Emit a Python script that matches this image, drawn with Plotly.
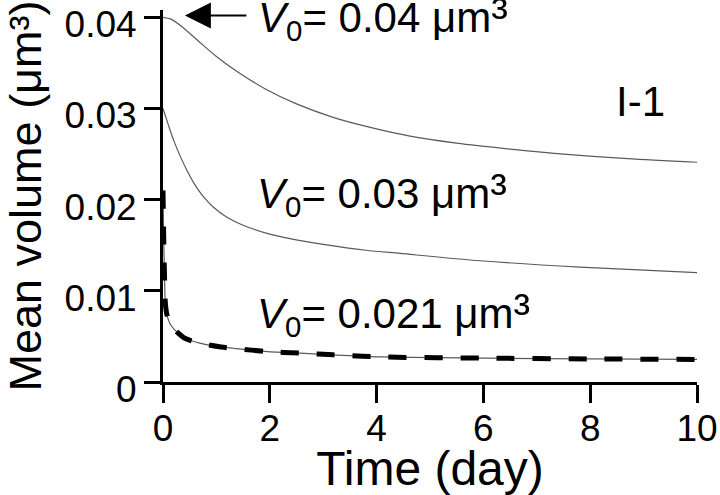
import plotly.graph_objects as go

# ---- data ----
t_040 = [0, 0.15, 0.35, 0.7, 1.0, 1.4, 1.9, 2.5, 3.2, 3.9, 4.6, 5.5, 6.5, 7.5, 8.7, 10]
v_040 = [0.0400, 0.0398, 0.0390, 0.0372, 0.0357, 0.0340, 0.0322, 0.0305, 0.0290, 0.0279,
         0.0270, 0.0262, 0.02555, 0.0250, 0.0245, 0.0241]

t_030 = [0, 0.1, 0.2, 0.32, 0.44, 0.57, 0.76, 0.94, 1.19, 1.5, 1.95, 2.4, 3.0, 3.8, 4.44,
         5.94, 7.81, 10]
v_030 = [0.0300, 0.0282, 0.0265, 0.0248, 0.0233, 0.0219, 0.0203, 0.0192, 0.0181, 0.0172,
         0.0163, 0.0157, 0.0151, 0.01445, 0.0141, 0.0133, 0.0126, 0.0120]

t_021 = [0, 0.01, 0.02, 0.03, 0.04, 0.06, 0.09, 0.15, 0.26, 0.41, 0.69, 1.09, 1.31, 1.95,
         2.57, 3.19, 4.1, 6, 8, 10]
v_021 = [0.0210, 0.0170, 0.0138, 0.0112, 0.0090, 0.0078, 0.0070, 0.0062, 0.0055, 0.0048,
         0.00427, 0.00384, 0.00370, 0.00334, 0.00316, 0.00298, 0.00275, 0.00262, 0.00253,
         0.00248]

x_ticks = [0, 2, 4, 6, 8, 10]
x_tick_labels = ["0", "2", "4", "6", "8", "10"]
y_ticks = [0, 0.01, 0.02, 0.03, 0.04]
y_tick_labels = ["0", "0.01", "0.02", "0.03", "0.04"]

FONT = "Liberation Sans, Arial, sans-serif"
thin = dict(color="#5a5a5a", width=1.2)

fig = go.Figure()
fig.add_trace(go.Scatter(x=t_040, y=v_040, mode="lines",
                         line=dict(shape="spline", smoothing=0.8, **thin)))
fig.add_trace(go.Scatter(x=t_030, y=v_030, mode="lines",
                         line=dict(shape="spline", smoothing=0.8, **thin)))
fig.add_trace(go.Scatter(x=t_021, y=v_021, mode="lines",
                         line=dict(shape="spline", smoothing=0.8, **thin)))
fig.add_trace(go.Scatter(x=t_021, y=v_021, mode="lines",
                         line=dict(shape="spline", smoothing=0.8, color="black", width=5,
                                   dash="18px,18px")))

axis_common = dict(showline=True, linecolor="black", linewidth=3, ticks="outside",
                   tickwidth=3, tickcolor="black", showgrid=False, zeroline=False,
                   automargin=False, ticklabeloverflow="allow",
                   tickfont=dict(family=FONT, size=37, color="black"))

fig.update_layout(
    width=720, height=495,
    margin=dict(l=163, r=23, t=10, b=113),
    plot_bgcolor="white", paper_bgcolor="white",
    showlegend=False,
    xaxis=dict(range=[0, 10], tickvals=x_ticks, ticktext=x_tick_labels, ticklen=18,
               ticklabelstandoff=-6,
               title=dict(text="Time (day)", font=dict(family=FONT, size=48, color="black")),
               **axis_common),
    yaxis=dict(range=[0, 0.0408], tickvals=y_ticks, ticktext=y_tick_labels, ticklen=16,
               ticklabelshift=7,
               title=dict(text="Mean volume (μm³)", standoff=12,
                          font=dict(family=FONT, size=45, color="black")),
               **axis_common),
)

ann_font = dict(family=FONT, size=42, color="black")
SUP3 = '<span style="font-size:50px">³</span>'
fig.add_annotation(x=1.74, y=0.0400, xref="x", yref="y", xanchor="left", yanchor="middle",
                   text="<i>V</i><sub>0</sub>= 0.04 μm" + SUP3, showarrow=False, font=ann_font)
fig.add_annotation(x=1.72, y=0.0207, xref="x", yref="y", xanchor="left", yanchor="middle",
                   text="<i>V</i><sub>0</sub>= 0.03 μm" + SUP3, showarrow=False, font=ann_font)
fig.add_annotation(x=1.72, y=0.0076, xref="x", yref="y", xanchor="left", yanchor="middle",
                   text="<i>V</i><sub>0</sub>= 0.021 μm" + SUP3, showarrow=False, font=ann_font)
fig.add_annotation(x=8.95, y=0.0308, xref="x", yref="y", xanchor="center", yanchor="middle",
                   text="I-1", showarrow=False, font=ann_font)
# arrow pointing at the V0 = 0.04 start
fig.add_annotation(x=0.41, y=0.0402, xref="x", yref="y", ax=1.59, ay=0.0402,
                   axref="x", ayref="y", text="", showarrow=True, arrowhead=2,
                   arrowsize=2.6, arrowwidth=2, arrowcolor="black")

# remove the browser's default 8 px body margin so the figure sits at the page corner
fig.write_html("out.html", config={"displayModeBar": False},
               post_script="document.body.style.margin='0';document.body.style.overflow='hidden';")
